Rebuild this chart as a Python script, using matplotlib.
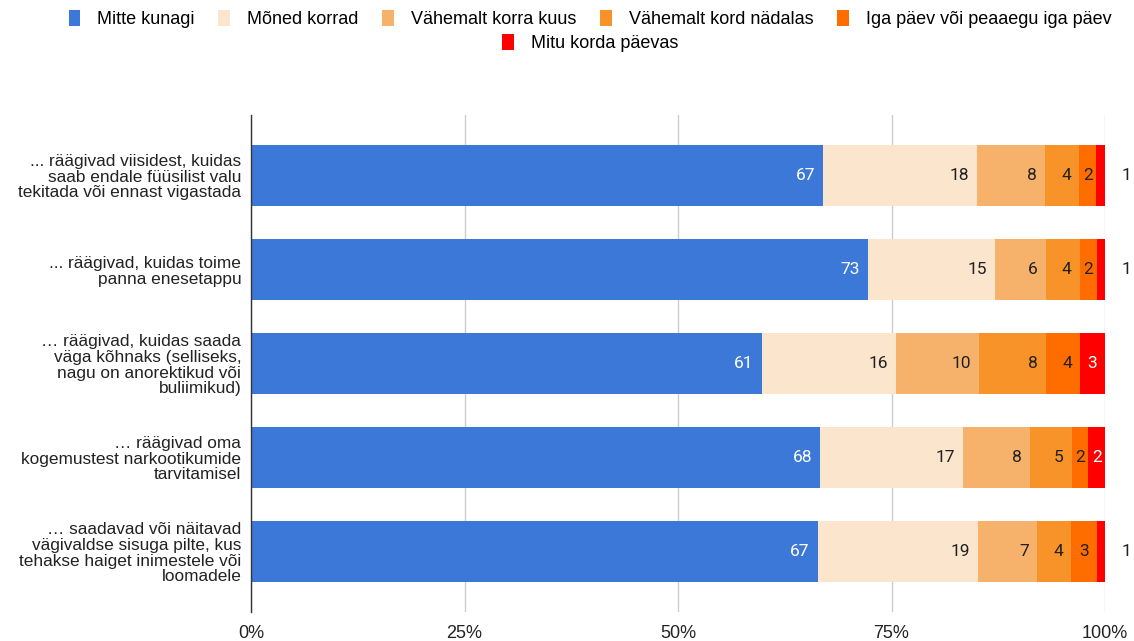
import matplotlib.pyplot as plt
from matplotlib.patches import Patch
import numpy as np

# küsitluse andmed (vastajate osakaal, %)
kategooriad = [
    "... räägivad viisidest, kuidas\nsaab endale füüsilist valu\ntekitada või ennast vigastada",
    "... räägivad, kuidas toime\npanna enesetappu",
    "… räägivad, kuidas saada\nväga kõhnaks (selliseks,\nnagu on anorektikud või\nbuliimikud)",
    "… räägivad oma\nkogemustest narkootikumide\ntarvitamisel",
    "… saadavad või näitavad\nvägivaldse sisuga pilte, kus\ntehakse haiget inimestele või\nloomadele",
]
seeriad = ["Mitte kunagi", "Mõned korrad", "Vähemalt korra kuus",
           "Vähemalt kord nädalas", "Iga päev või peaaegu iga päev", "Mitu korda päevas"]
mitte_kunagi = [67, 73, 61, 68, 67]
moned_korrad = [18, 15, 16, 17, 19]
korra_kuus = [8, 6, 10, 8, 7]
kord_nadalas = [4, 4, 8, 5, 4]
iga_paev = [2, 2, 4, 2, 3]
mitu_korda = [1, 1, 3, 2, 1]
tick_labels = ["0%", "25%", "50%", "75%", "100%"]

varvid = ["#3c78d8", "#fce5cd", "#f6b26b", "#f79329", "#ff6d01", "#ff0000"]
teksti_varvid = ["white", "#212121", "#212121", "#212121", "#212121", "white"]

andmed = np.array([mitte_kunagi, moned_korrad, korra_kuus, kord_nadalas, iga_paev, mitu_korda], dtype=float)
osakaal = andmed / andmed.sum(axis=0)

W, H = 1134, 641
fig = plt.figure(figsize=(W / 100, H / 100), dpi=100)
ax = fig.add_axes([251 / W, 1 - 612 / H, (1105 - 251) / W, (612 - 115) / H])

y = np.arange(len(kategooriad))
ax_px = 1105 - 251
vasak = np.zeros(len(kategooriad))
for i in range(len(seeriad)):
    ax.barh(y, osakaal[i], left=vasak, height=0.65, color=varvid[i], zorder=2)
    for j in range(len(kategooriad)):
        lopp = vasak[j] + osakaal[i][j]
        laius_px = osakaal[i][j] * ax_px
        tekst = f"{int(andmed[i][j])}"
        if laius_px < 12:
            ax.annotate(tekst, xy=(lopp, y[j]), xytext=(12, 0), textcoords="offset points",
                        ha="left", va="center", fontsize=12.5, family="Roboto", color="#212121")
        elif laius_px < 30:
            ax.text(vasak[j] + osakaal[i][j] / 2, y[j], tekst, ha="center", va="center",
                    fontsize=12.5, family="Roboto", color=teksti_varvid[i], zorder=3)
        else:
            ax.annotate(tekst, xy=(lopp, y[j]), xytext=(-5.8, 0), textcoords="offset points",
                        ha="right", va="center", fontsize=12.5, family="Roboto",
                        color=teksti_varvid[i], zorder=3)
    vasak += osakaal[i]

ax.set_xlim(0, 1)
ax.set_ylim(len(kategooriad) - 0.5 + 0.144, -0.5 - 0.144)
ax.set_xticks([0, 0.25, 0.5, 0.75, 1.0])
ax.set_xticklabels(tick_labels, fontsize=13, family="Liberation Sans", color="#222222")
ax.set_yticks(y)
ax.set_yticklabels(kategooriad, fontsize=12.4, family="Liberation Sans", color="#222222",
                   linespacing=1.05)
ax.tick_params(axis="both", length=0)
ax.tick_params(axis="x", pad=9)
ax.tick_params(axis="y", pad=7)
ax.grid(axis="x", color="#cccccc", linewidth=1, zorder=0)
for s in ["top", "right", "bottom"]:
    ax.spines[s].set_visible(False)
ax.spines["left"].set_color("#333333")
ax.spines["left"].set_linewidth(1)
ax.spines["left"].set_zorder(4)

# legend kahes reas, teine rida keskel
kasitsed = [Patch(facecolor=varvid[i], edgecolor="none", label=seeriad[i]) for i in range(len(seeriad))]
leg_opts = dict(frameon=False, handlelength=0.65, handleheight=0.95,
                handletextpad=0.95, columnspacing=1.3, borderaxespad=0,
                prop={"family": "Liberation Sans", "size": 13})
fig.legend(handles=kasitsed[:5], loc="center", ncol=5,
           bbox_to_anchor=(590 / W, 1 - 19 / H), **leg_opts)
fig.legend(handles=kasitsed[5:], loc="center", ncol=1,
           bbox_to_anchor=(590 / W, 1 - 43 / H), **leg_opts)

fig.savefig("out.png", dpi=100)
